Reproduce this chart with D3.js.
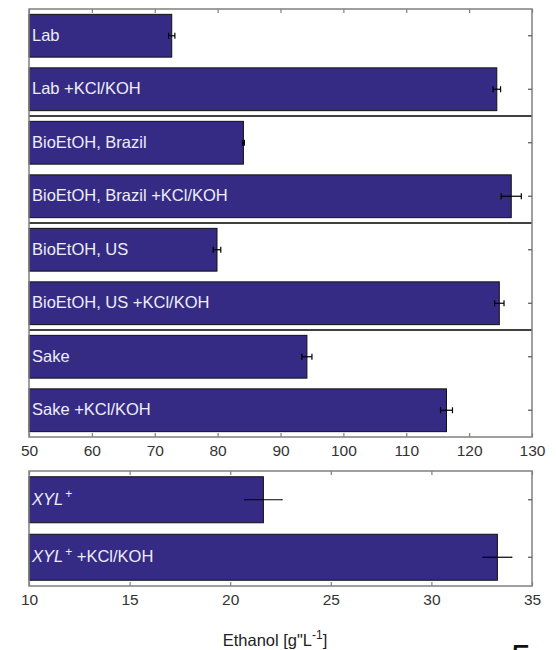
<!DOCTYPE html>
<html>
<head>
<meta charset="utf-8">
<script src="https://cdn.jsdelivr.net/npm/d3@7"></script>
<style>
  html, body { margin: 0; padding: 0; background: #fff; }
  svg { display: block; font-family: "Liberation Sans", Arial, sans-serif; }
</style>
</head>
<body>
<svg id="chart" width="556" height="650"></svg>
<script>
// Ethanol titres (g/L) per medium, with and without KCl/KOH supplementation
const topCategories = [
  "Lab", "Lab +KCl/KOH",
  "BioEtOH, Brazil", "BioEtOH, Brazil +KCl/KOH",
  "BioEtOH, US", "BioEtOH, US +KCl/KOH",
  "Sake", "Sake +KCl/KOH"
];
const topValues = [72.7, 124.4, 84.1, 126.7, 79.9, 124.8, 94.2, 116.4];
const topErrors = [0.5, 0.6, 0.15, 1.6, 0.6, 0.75, 0.8, 0.95];
const topTicks = [50, 60, 70, 80, 90, 100, 110, 120, 130];

const bottomCategories = ["XYL+", "XYL+ +KCl/KOH"];
const bottomValues = [21.65, 33.28];
const bottomErrors = [0.93, 0.72];
const bottomTicks = [10, 15, 20, 25, 30, 35];

const axisLabel = "Ethanol [g\"L";
const axisLabelSup = "-1";

const barFill = "#352b85";
const frameColor = "#808080";
const tickTextColor = "#333333";
const barTextColor = "#eeeef6";

const svg = d3.select("#chart");
const left = 29, right = 532;

function panel(cfg) {
  const g = svg.append("g");
  const x = d3.scaleLinear().domain(cfg.domain).range([left, right]);
  const y = d3.scaleBand().domain(cfg.categories).range([cfg.top, cfg.bottom])
    .paddingInner(0.2).paddingOuter(0.1);
  const data = cfg.categories.map((c, i) => ({ c, v: cfg.values[i], e: cfg.errors[i] }));

  // bars
  g.selectAll("rect.bar").data(data).join("rect")
    .attr("class", "bar")
    .attr("x", x.range()[0])
    .attr("y", d => y(d.c))
    .attr("width", d => x(d.v) - x.range()[0])
    .attr("height", y.bandwidth())
    .attr("fill", barFill)
    .attr("stroke", "#111")
    .attr("stroke-width", 1);

  // group separators (every second band)
  if (cfg.groupSize) {
    const step = y.step();
    for (let k = 1; k < cfg.categories.length / cfg.groupSize; k++) {
      const yy = cfg.top + step * cfg.groupSize * k;
      g.append("line").attr("x1", left).attr("x2", right)
        .attr("y1", yy).attr("y2", yy)
        .attr("stroke", "#000").attr("stroke-width", 1.3);
    }
  }

  // error bars
  const eb = g.selectAll("g.err").data(data).join("g").attr("class", "err");
  const cy = d => y(d.c) + y.bandwidth() / 2;
  eb.append("line")
    .attr("x1", d => x(d.v - d.e)).attr("x2", d => x(d.v + d.e))
    .attr("y1", cy).attr("y2", cy)
    .attr("stroke", "#000").attr("stroke-width", 1.2);
  [-1, 1].forEach(s => {
    eb.append("line")
      .attr("x1", d => x(d.v + s * d.e)).attr("x2", d => x(d.v + s * d.e))
      .attr("y1", d => cy(d) - cfg.cap).attr("y2", d => cy(d) + cfg.cap)
      .attr("stroke", "#000").attr("stroke-width", 1.2);
  });

  // labels inside bars
  const lbl = g.selectAll("text.lbl").data(data).join("text")
    .attr("class", "lbl")
    .attr("x", left + 3)
    .attr("y", d => cy(d))
    .attr("dy", "0.3em")
    .attr("font-size", 16.5)
    .attr("fill", barTextColor);
  lbl.each(function (d) {
    const t = d3.select(this);
    if (d.c.startsWith("XYL+")) {
      t.append("tspan").attr("font-style", "italic").text("XYL");
      t.append("tspan").attr("font-size", 12).attr("dy", "-0.55em").attr("dx", 2).text("+");
      const rest = d.c.slice(4);
      if (rest) t.append("tspan").attr("dy", "0.4em").text(rest);
    } else {
      t.text(d.c);
    }
  });

  // frame
  g.append("rect").attr("x", left).attr("y", cfg.top)
    .attr("width", right - left).attr("height", cfg.bottom - cfg.top)
    .attr("fill", "none").attr("stroke", frameColor).attr("stroke-width", 1.5);

  // bottom axis (ticks pointing inward) with labels
  const ax = g.append("g").attr("transform", `translate(0,${cfg.bottom})`)
    .call(d3.axisBottom(x).tickValues(cfg.ticks).tickSize(-4).tickPadding(8));
  ax.select(".domain").remove();
  ax.selectAll(".tick line").attr("stroke", frameColor).attr("stroke-width", 1.2);
  ax.selectAll(".tick text").attr("fill", tickTextColor).attr("font-size", 15.5)
    .attr("font-family", "Liberation Sans, Arial, sans-serif");

  // top ticks
  const axT = g.append("g").attr("transform", `translate(0,${cfg.top})`)
    .call(d3.axisTop(x).tickValues(cfg.ticks).tickSize(-4).tickFormat(""));
  axT.select(".domain").remove();
  axT.selectAll(".tick line").attr("stroke", frameColor).attr("stroke-width", 1.2);

  // right ticks at band centres
  const axR = g.append("g").attr("transform", `translate(${right},0)`)
    .call(d3.axisRight(y).tickSize(-4).tickFormat(""));
  axR.select(".domain").remove();
  axR.selectAll(".tick line").attr("stroke", "#555").attr("stroke-width", 1.2);
}

panel({
  categories: topCategories, values: topValues, errors: topErrors,
  domain: [50, 130], ticks: topTicks, top: 9, bottom: 437, groupSize: 2, cap: 3
});
panel({
  categories: bottomCategories, values: bottomValues, errors: bottomErrors,
  domain: [10, 35], ticks: bottomTicks, top: 471, bottom: 586, groupSize: 0, cap: 0.5
});

// x-axis title
const title = svg.append("text")
  .attr("x", 275).attr("y", 646)
  .attr("text-anchor", "middle")
  .attr("font-size", 16.5).attr("fill", "#222");
title.append("tspan").text(axisLabel);
title.append("tspan").attr("font-size", 12).attr("dy", "-0.6em").text(axisLabelSup);
title.append("tspan").attr("dy", "0.45em").text("]");

// panel number (partly outside the view)
svg.append("text").attr("x", 511).attr("y", 671)
  .attr("font-size", 36).attr("fill", "#111").text("5");
</script>
</body>
</html>
